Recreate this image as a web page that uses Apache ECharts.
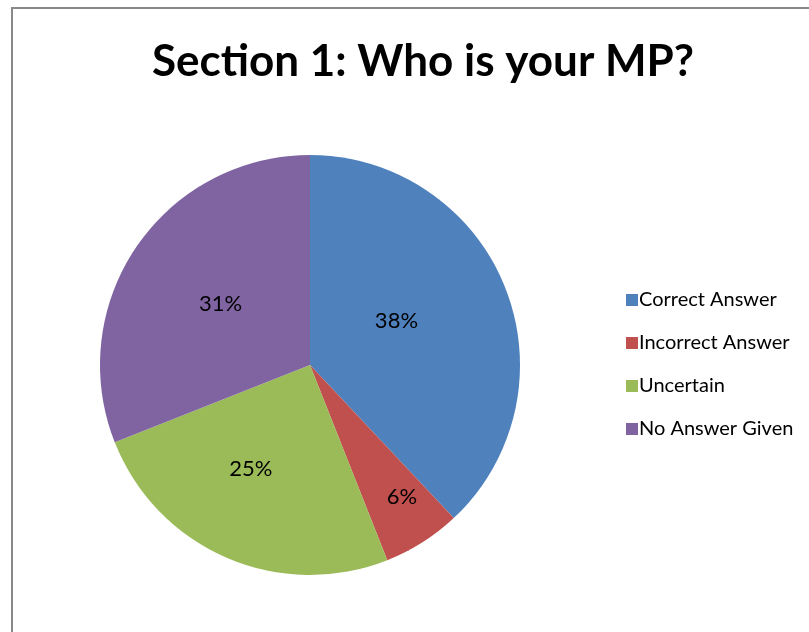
<!DOCTYPE html>
<html>
<head>
<meta charset="utf-8">
<script src="https://cdn.jsdelivr.net/npm/echarts@6/dist/echarts.min.js"></script>
<style>
html,body{margin:0;padding:0;background:#fff;}
#main{width:809px;height:632px;}
</style>
</head>
<body>
<div id="main"></div>
<script>
var titleText = 'Section 1: Who is your MP?';
var categories = ['Correct Answer', 'Incorrect Answer', 'Uncertain', 'No Answer Given'];
var values = [38, 6, 25, 31];
var colors = ['#4F81BD', '#C0504D', '#9BBB59', '#8064A2'];

var chart = echarts.init(document.getElementById('main'), null, {renderer: 'canvas'});
var center = [310, 365];
var radius = 210;
// label placement tweaks (style only): radial scale and angular shift in degrees
var labelScale = [0.90, 1.49, 1.11, 1.0];
var labelTurn = [-5.6, -2.4, 6.2, 0];

var option = {
  animation: false,
  backgroundColor: '#fff',
  color: colors,
  graphic: [{
    type: 'rect',
    shape: {x: 12, y: 8, width: 1000, height: 1000},
    style: {fill: 'none', stroke: '#898989', lineWidth: 2},
    z: 0
  }],
  title: {
    text: titleText,
    left: 418,
    textAlign: 'center',
    top: 35,
    textStyle: {fontFamily: 'Lato', fontWeight: 'bold', fontSize: 44, color: '#000'}
  },
  legend: {
    orient: 'vertical',
    left: 621,
    top: 285,
    itemWidth: 12,
    itemHeight: 12,
    itemGap: 23,
    icon: 'rect',
    textStyle: {fontFamily: 'Lato', fontSize: 20, color: '#000', padding: [0, 0, 0, -4]},
    data: categories
  },
  series: [{
    type: 'pie',
    center: center,
    radius: radius,
    startAngle: 90,
    clockwise: true,
    label: {
      show: true,
      position: 'inside',
      formatter: function (p) { return p.value + '%'; },
      fontFamily: 'Lato',
      fontSize: 22,
      color: '#000'
    },
    labelLayout: function (p) {
      var r = p.labelRect;
      var dx = r.x + r.width / 2 - center[0], dy = r.y + r.height / 2 - center[1];
      var k = labelScale[p.dataIndex];
      var a = labelTurn[p.dataIndex] * Math.PI / 180;
      var rx = (dx * Math.cos(a) - dy * Math.sin(a)) * k;
      var ry = (dx * Math.sin(a) + dy * Math.cos(a)) * k;
      return {x: center[0] + rx, y: center[1] + ry, align: 'center', verticalAlign: 'middle'};
    },
    itemStyle: {borderWidth: 0},
    emphasis: {disabled: true},
    data: categories.map(function (c, i) { return {name: c, value: values[i]}; })
  }]
};
chart.setOption(option);
</script>
</body>
</html>
